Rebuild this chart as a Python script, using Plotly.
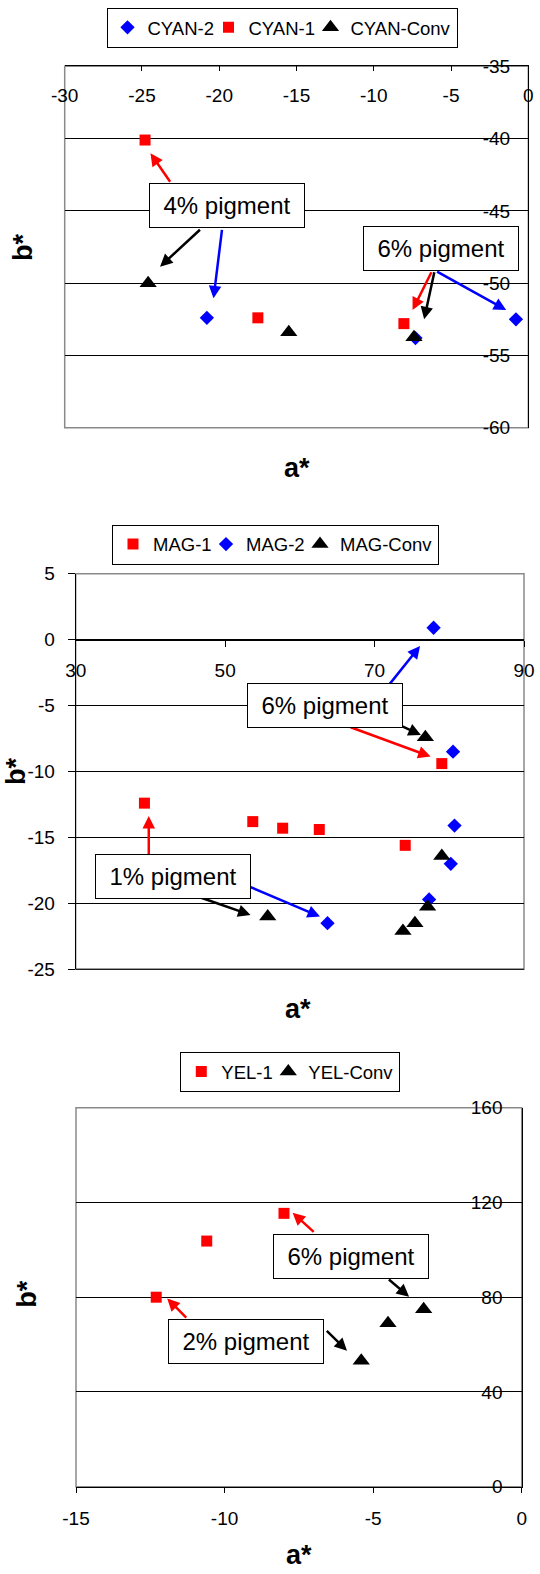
import plotly.graph_objects as go

W, H = 540, 1574
FONT = "Liberation Sans, Arial, sans-serif"

# ---------------- data ----------------
# Chart 1 (cyan)
cyan2_a = [-20.8, -7.3, -0.8]
cyan2_b = [-52.4, -53.8, -52.5]
cyan1_a = [-24.8, -17.5, -8.05]
cyan1_b = [-40.1, -52.4, -52.8]
cyanc_a = [-24.6, -15.5, -7.4]
cyanc_b = [-50.0, -53.4, -53.75]

# Chart 2 (magenta)
mag1_a = [39.2, 53.7, 57.7, 62.6, 74.1, 79.0]
mag1_b = [-12.4, -13.8, -14.3, -14.4, -15.6, -9.4]
mag2_a = [63.7, 77.3, 80.2, 80.7, 80.5, 77.9]
mag2_b = [-21.5, -19.7, -17.0, -14.1, -8.5, 0.9]
magc_a = [55.7, 73.8, 75.4, 77.1, 79.0, 76.8]
magc_b = [-21.0, -22.1, -21.5, -20.25, -16.4, -7.4]

# Chart 3 (yellow)
yel1_a = [-12.3, -10.6, -8.0]
yel1_b = [80.0, 103.7, 115.4]
yelc_a = [-5.4, -4.5, -3.3]
yelc_b = [53.2, 69.0, 74.9]

# tick values and labels (hyphen minus as in the original)
c1_xticks = [-30, -25, -20, -15, -10, -5, 0]
c1_yticks = [-60, -55, -50, -45, -40, -35]
c2_xticks = [30, 50, 70, 90]
c2_yticks = [-25, -20, -15, -10, -5, 0, 5]
c3_xticks = [-15, -10, -5, 0]
c3_yticks = [0, 40, 80, 120, 160]


def lab(vals):
    return [str(v) for v in vals]


# callout labels: (text, a, b)
c1_boxes = [("4% pigment", -19.5, -44.6), ("6% pigment", -5.65, -47.57)]
c2_boxes = [("6% pigment", 63.3, -5.02), ("1% pigment", 43.05, -17.97)]
c3_boxes = [("6% pigment", -5.74, 97.1), ("2% pigment", -9.27, 61.4)]

# callout arrows: (tail_a, tail_b, head_a, head_b, colour)
c1_arrows = [(-23.11, -43.09, -24.45, -41.02, "red"),
             (-21.15, -46.21, -23.83, -48.86, "black"),
             (-19.81, -46.21, -20.37, -51.05, "blue"),
             (-6.22, -49.14, -7.49, -51.86, "red"),
             (-6.06, -49.14, -6.74, -52.5, "black"),
             (-6.0, -49.14, -1.43, -51.86, "blue")]
c2_arrows = [(71.85, -3.49, 76.09, -0.48, "blue"),
             (73.3, -6.47, 76.2, -7.23, "black"),
             (66.6, -6.6, 77.5, -8.87, "red"),
             (39.78, -16.46, 39.78, -13.38, "red"),
             (46.6, -19.53, 53.4, -20.88, "black"),
             (53.05, -18.68, 62.7, -21.0, "blue")]
c3_arrows = [(-6.95, 107.0, -7.71, 115.7, "red"),
             (-4.52, 88.0, -3.79, 80.2, "black"),
             (-11.24, 70.7, -11.93, 79.5, "red"),
             (-6.61, 66.4, -5.88, 57.4, "black")]

# ---------------- layout geometry (pixels) ----------------
boxes_px = {1: (64.7, 528.3, 66.3, 427.7),
            2: (75.7, 524.0, 573.7, 969.3),
            3: (76.0, 521.7, 1107.7, 1486.7)}


def xdom(i):
    l, r, t, b = boxes_px[i]
    return [l / W, r / W]


def ydom(i):
    l, r, t, b = boxes_px[i]
    return [1 - b / H, 1 - t / H]


fig = go.Figure()

BLUE, RED, BLACK = "#0000FF", "#FF0000", "#000000"
sym = {"diamond": 11, "square": 11, "triangle-up": 15}


def add(a, b, name, color, symbol, xa, ya, leg, lw=None):
    kw = {}
    if lw is not None:
        kw["legendwidth"] = lw
    fig.add_trace(go.Scatter(x=a, y=b, mode="markers", name=name,
                             marker=dict(color=color, symbol=symbol, size=sym[symbol],
                                         line=dict(width=0)),
                             xaxis=xa, yaxis=ya, legend=leg, cliponaxis=False, **kw))


add(cyan2_a, cyan2_b, "CYAN-2", BLUE, "diamond", "x", "y", "legend", 56)
add(cyan1_a, cyan1_b, "CYAN-1", RED, "square", "x", "y", "legend", 57)
add(cyanc_a, cyanc_b, "CYAN-Conv", BLACK, "triangle-up", "x", "y", "legend")

add(mag1_a, mag1_b, "MAG-1", RED, "square", "x2", "y2", "legend2", 48)
add(mag2_a, mag2_b, "MAG-2", BLUE, "diamond", "x2", "y2", "legend2", 49)
add(magc_a, magc_b, "MAG-Conv", BLACK, "triangle-up", "x2", "y2", "legend2")

add(yel1_a, yel1_b, "YEL-1", RED, "square", "x3", "y3", "legend3", 42)
add(yelc_a, yelc_b, "YEL-Conv", BLACK, "triangle-up", "x3", "y3", "legend3")

tickfont = dict(family=FONT, size=19, color="black")
common = dict(showline=True, linecolor="black", linewidth=1, tickcolor="black",
              tickfont=tickfont, zeroline=False, fixedrange=True,
              ticklabeloverflow="allow", tickmode="array")

# zero-crossing position for chart 2's a* axis
yd2 = ydom(2)
pos2 = yd2[0] + (0 - (-25)) / 30 * (yd2[1] - yd2[0])

fig.update_layout(
    width=W, height=H, margin=dict(l=0, r=0, t=0, b=0, autoexpand=False),
    paper_bgcolor="white", plot_bgcolor="white",
    font=dict(family=FONT, color="black"),
    xaxis=dict(domain=xdom(1), anchor="y", range=[-30, 0], side="top",
               tickvals=c1_xticks, ticktext=lab(c1_xticks),
               ticks="inside", ticklen=5, ticklabelposition="inside",
               ticklabelstandoff=18, showgrid=False, **common),
    yaxis=dict(domain=ydom(1), anchor="x", range=[-60, -35], side="right",
               tickvals=c1_yticks, ticktext=lab(c1_yticks),
               ticks="inside", ticklen=5, ticklabelposition="inside",
               ticklabelstandoff=14, showgrid=True, gridcolor="black", gridwidth=1,
               **common),
    xaxis2=dict(domain=xdom(2), anchor="free", position=pos2, range=[30, 90],
                tickvals=c2_xticks, ticktext=lab(c2_xticks),
                side="bottom", ticks="outside", ticklen=6, ticklabelstandoff=8,
                showgrid=False, **common),
    yaxis2=dict(domain=ydom(2), anchor="x2", range=[-25, 5], side="left",
                tickvals=c2_yticks, ticktext=lab(c2_yticks),
                ticks="outside", ticklen=7, ticklabelstandoff=9, showgrid=True,
                gridcolor="black", gridwidth=1, **common),
    xaxis3=dict(domain=xdom(3), anchor="y3", range=[-15, 0], side="bottom",
                tickvals=c3_xticks, ticktext=lab(c3_xticks),
                ticks="outside", ticklen=5, ticklabelstandoff=9, showgrid=False, **common),
    yaxis3=dict(domain=ydom(3), anchor="x3", range=[0, 160], side="right",
                tickvals=c3_yticks, ticktext=lab(c3_yticks),
                ticks="inside", ticklen=5, ticklabelposition="inside",
                ticklabelstandoff=15, showgrid=True, gridcolor="black", gridwidth=1,
                **common),
)

legfont = dict(family=FONT, size=18.5, color="black")
for key, cx, cy in [("legend", 282.0, 27.8), ("legend2", 275.5, 544.5), ("legend3", 290.3, 1072.0)]:
    fig.update_layout({key: dict(x=cx / W, y=1 - cy / H, xref="container", yref="container",
                                 xanchor="center", yanchor="middle",
                                 orientation="h", bordercolor="black", borderwidth=1,
                                 bgcolor="white", font=legfont, itemwidth=30,
                                 itemclick=False, itemdoubleclick=False)})

# plot-area borders (grey), drawn beneath the black axis lines
for xr, yr in [("x", "y"), ("x2", "y2"), ("x3", "y3")]:
    fig.add_shape(type="rect", xref=f"{xr} domain", yref=f"{yr} domain",
                  x0=0, x1=1, y0=0, y1=1, line=dict(color="#8a8a8a", width=1.5),
                  fillcolor="rgba(0,0,0,0)", layer="below")
# bottom edge of chart 2 is black
fig.add_shape(type="line", xref="x2 domain", yref="y2 domain", x0=0, x1=1, y0=0, y1=0,
              line=dict(color="black", width=1), layer="above")

ann = []


def arrows(lst, xr, yr):
    for ta, tb, ha, hb, col in lst:
        ann.append(dict(x=ha, y=hb, ax=ta, ay=tb, xref=xr, yref=yr, axref=xr, ayref=yr,
                        text="", showarrow=True, arrowhead=2, arrowsize=1,
                        arrowwidth=2.5, arrowcolor=col, standoff=0, startstandoff=0))


def boxes(lst, xr, yr):
    for txt, a, b in lst:
        ann.append(dict(x=a, y=b, xref=xr, yref=yr, text=txt, showarrow=False,
                        font=dict(family=FONT, size=24, color="black"),
                        bgcolor="white", bordercolor="black", borderwidth=1,
                        borderpad=6, width=142, height=31,
                        xanchor="center", yanchor="middle"))


arrows(c1_arrows, "x", "y")
arrows(c2_arrows, "x2", "y2")
arrows(c3_arrows, "x3", "y3")
boxes(c1_boxes, "x", "y")
boxes(c2_boxes, "x2", "y2")
boxes(c3_boxes, "x3", "y3")

titlefont = dict(family=FONT, size=27, color="black")
for txt, px, py, ang in [("a*", 296.8, 468.0, 0), ("a*", 297.9, 1009.0, 0),
                         ("a*", 298.9, 1555.0, 0),
                         ("b*", 22.4, 247.5, -90), ("b*", 16.0, 772.0, -90),
                         ("b*", 26.7, 1294.0, -90)]:
    ann.append(dict(x=px / W, y=1 - py / H, xref="paper", yref="paper", text=f"<b>{txt}</b>",
                    showarrow=False, font=titlefont, textangle=ang,
                    xanchor="center", yanchor="middle"))

fig.update_layout(annotations=ann)
fig.write_html("out.html", config={"displayModeBar": False},
               post_script="document.body.style.margin='0px';document.body.style.padding='0px';")
